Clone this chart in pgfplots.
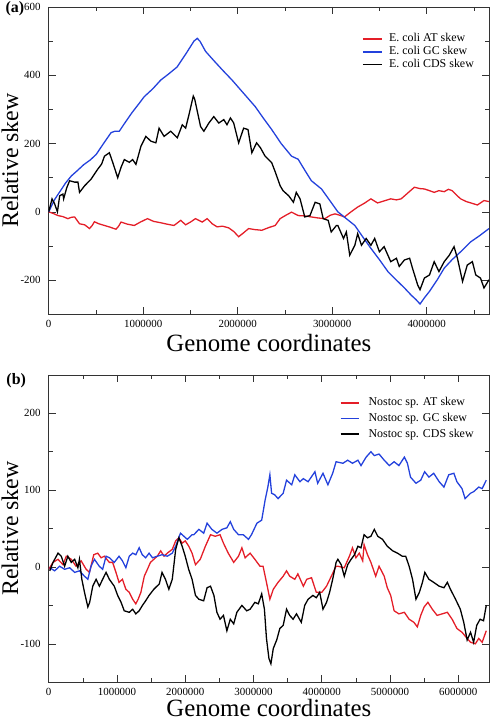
\documentclass[border=0pt]{standalone}
\usepackage{fontspec}
\setmainfont{Liberation Serif}
\usepackage{pgfplots}
\pgfplotsset{compat=1.18}
\definecolor{skewred}{RGB}{228,30,40}
\definecolor{skewblue}{RGB}{35,65,220}
\pgfplotsset{
  skewaxis/.style={
    width=442.7pt, height=309pt, scale only axis,
    axis line style={black!80, line width=0.8pt},
    tick style={black!80, line width=0.6pt},
    major tick length=7pt, minor tick length=4pt,
    scaled x ticks=false, scaled y ticks=false,
    /pgf/number format/assume math mode=true,
    xticklabel style={/pgf/number format/fixed, /pgf/number format/1000 sep={}, font=\fontsize{11}{11}\selectfont, yshift=-2.3pt},
    yticklabel style={/pgf/number format/fixed, /pgf/number format/1000 sep={}, font=\fontsize{11}{11}\selectfont, xshift=-4.6pt},
    ylabel style={font=\fontsize{24}{24}\selectfont},
    xlabel style={font=\fontsize{25}{25}\selectfont},
    xlabel={Genome coordinates},
    ylabel={Relative skew},
    ylabel style={at={(axis description cs:-0.0693,0.5)}, anchor=base},
    title style={font=\fontsize{16}{16}\selectfont\bfseries, anchor=base west},
    legend cell align=left,
    legend image code/.code={\path (0pt,-3.5pt); \draw[#1, line width=1.3pt] (0pt,0pt) -- (19pt,0pt);},
    every axis plot/.append style={line width=1.3pt, no markers},
  }
}
\begin{document}
\begin{tikzpicture}
\path[use as bounding box] (0,0) rectangle (492pt,-726pt);
% ---------------- (a) ----------------
\begin{axis}[skewaxis, at={(49pt,-7pt)}, anchor=north west,
  xmin=0, xmax=4660000, ymin=-300, ymax=600,
  xtick={0,1000000,2000000,3000000,4000000},
  minor xtick={500000,1500000,2500000,3500000,4500000},
  ytick={-200,0,200,400,600},
  minor ytick={-300,-100,100,300,500},
  xlabel style={at={(axis description cs:0.5,-0.1197)}, anchor=base},
  title={(a)}, title style={at={(axis description cs:-0.106,0.963)}},
  legend style={draw=none, fill=none, inner sep=0pt, anchor=north west,
    at={(rel axis cs:0.7115,0.916)}, font=\fontsize{12}{13}\selectfont,
    nodes={inner sep=0pt, text height=9pt, text depth=3pt}, row sep=1pt, column sep=6.7pt},
]
\addplot[color=skewred] coordinates {
(0,0) (50e3,-5) (98e3,-11) (150e3,-14) (203e3,-20) (240e3,-16) (274e3,-15) (300e3,-25) (326e3,-35) (380e3,-38) (432e3,-49) (460e3,-40) (484e3,-29) (530e3,-35) (590e3,-40) (650e3,-45) (712e3,-51) (740e3,-42) (765e3,-30) (830e3,-36) (905e3,-40) (970e3,-30) (1045e3,-20) (1110e3,-28) (1186e3,-32) (1250e3,-36) (1326e3,-40) (1397e3,-25) (1449e3,-38) (1500e3,-30) (1554e3,-20) (1624e3,-30) (1677e3,-20) (1730e3,-35) (1782e3,-44) (1840e3,-42) (1905e3,-47) (1960e3,-58) (2010e3,-73) (2060e3,-62) (2116e3,-49) (2180e3,-52) (2256e3,-54) (2330e3,-46) (2397e3,-40) (2449e3,-20) (2510e3,-10) (2570e3,-1) (2642e3,-11) (2710e3,-12) (2780e3,-15) (2850e3,-18) (2923e3,-20) (2980e3,-10) (3030e3,-6) (3080e3,-10) (3130e3,-15) (3200e3,0) (3270e3,14) (3340e3,25) (3410e3,38) (3480e3,26) (3550e3,32) (3620e3,38) (3680e3,35) (3730e3,38) (3800e3,55) (3870e3,72) (3930e3,68) (3976e3,67) (4030e3,62) (4080e3,57) (4130e3,62) (4186e3,59) (4230e3,66) (4270e3,62) (4320e3,48) (4360e3,38) (4420e3,30) (4480e3,25) (4537e3,20) (4607e3,33) (4660e3,30)
};
\addlegendentry{E. coli AT skew}
\addplot[color=skewblue] coordinates {
(0,0) (60e3,35) (120e3,60) (180e3,85) (239e3,105) (300e3,120) (370e3,138) (440e3,152) (502e3,168) (580e3,200) (660e3,232) (700e3,236) (747e3,236) (800e3,258) (880e3,290) (950e3,315) (1010e3,337) (1100e3,360) (1186e3,386) (1270e3,404) (1358e3,424) (1450e3,462) (1537e3,500) (1572e3,508) (1600e3,500) (1660e3,470) (1747e3,443) (1840e3,415) (1940e3,386) (2060e3,348) (2186e3,308) (2270e3,275) (2360e3,241) (2460e3,200) (2570e3,163) (2640e3,154) (2710e3,122) (2780e3,91) (2887e3,67) (2970e3,35) (3060e3,0) (3150e3,-20) (3240e3,-40) (3320e3,-72) (3410e3,-107) (3500e3,-140) (3590e3,-175) (3680e3,-200) (3765e3,-223) (3840e3,-245) (3887e3,-257) (3930e3,-270) (3976e3,-252) (4030e3,-233) (4110e3,-200) (4186e3,-165) (4270e3,-140) (4360e3,-117) (4466e3,-88) (4560e3,-70) (4660e3,-49)
};
\addlegendentry{E. coli GC skew}
\addplot[color=black] coordinates {
(0,0) (35e3,38) (63e3,23) (92e3,0) (116e3,47) (150e3,52) (158e3,38) (190e3,70) (221e3,91) (274e3,87) (309e3,87) (326e3,57) (379e3,76) (449e3,96) (519e3,125) (560e3,140) (590e3,163) (642e3,173) (677e3,145) (730e3,100) (765e3,130) (800e3,153) (853e3,145) (888e3,153) (923e3,139) (976e3,192) (1028e3,221) (1081e3,207) (1134e3,202) (1168e3,245) (1221e3,221) (1291e3,236) (1361e3,217) (1414e3,255) (1449e3,245) (1484e3,284) (1530e3,339) (1545e3,330) (1607e3,250) (1642e3,236) (1695e3,260) (1747e3,279) (1800e3,260) (1853e3,270) (1887e3,255) (1923e3,275) (1958e3,260) (2010e3,202) (2063e3,245) (2109e3,241) (2150e3,173) (2200e3,202) (2240e3,188) (2290e3,163) (2360e3,144) (2400e3,115) (2450e3,76) (2480e3,62) (2540e3,47) (2590e3,28) (2620e3,57) (2660e3,38) (2710e3,-15) (2765e3,-11) (2820e3,28) (2870e3,23) (2905e3,-20) (2958e3,-25) (2990e3,-59) (3045e3,-40) (3060e3,-40) (3120e3,-78) (3150e3,-59) (3186e3,-127) (3240e3,-98) (3270e3,-64) (3310e3,-98) (3360e3,-78) (3410e3,-98) (3450e3,-78) (3500e3,-117) (3550e3,-102) (3620e3,-146) (3680e3,-136) (3710e3,-160) (3765e3,-141) (3820e3,-136) (3850e3,-165) (3905e3,-214) (3930e3,-228) (3976e3,-194) (4030e3,-185) (4080e3,-146) (4130e3,-175) (4186e3,-146) (4240e3,-127) (4290e3,-102) (4326e3,-136) (4380e3,-204) (4430e3,-156) (4484e3,-146) (4520e3,-185) (4570e3,-194) (4607e3,-223) (4660e3,-199)
};
\addlegendentry{E. coli CDS skew}
\end{axis}
% ---------------- (b) ----------------
\begin{axis}[skewaxis, at={(49pt,-377pt)}, anchor=north west,
  xmin=0, xmax=6450000, ymin=-150, ymax=250,
  xtick={0,1000000,2000000,3000000,4000000,5000000,6000000},
  minor xtick={500000,1500000,2500000,3500000,4500000,5500000},
  ytick={-100,0,100,200},
  minor ytick={-150,-50,50,150,250},
  xlabel style={at={(axis description cs:0.5,-0.1100)}, anchor=base},
  title={(b)}, title style={at={(axis description cs:-0.104,0.951)}},
  legend style={draw=none, fill=none, inner sep=0pt, anchor=north west,
    at={(rel axis cs:0.661,0.929)}, font=\fontsize{12}{13}\selectfont,
    nodes={inner sep=0pt, text height=9pt, text depth=3pt}, row sep=3.7pt, column sep=8.5pt},
]
\addplot[color=skewred] coordinates {
(0,-3) (0.063e6,6) (0.136e6,10) (0.209e6,3) (0.257e6,14) (0.33e6,10) (0.40e6,1) (0.475e6,8) (0.548e6,-3) (0.597e6,-7) (0.66e6,16) (0.718e6,18) (0.767e6,12) (0.815e6,14) (0.888e6,6) (0.936e6,6) (0.985e6,-7) (1.03e6,-20) (1.08e6,-16) (1.13e6,-29) (1.18e6,-33) (1.23e6,-42) (1.276e6,-48) (1.31e6,-42) (1.35e6,-33) (1.40e6,-12) (1.446e6,-3) (1.49e6,6) (1.54e6,10) (1.59e6,14) (1.64e6,21) (1.69e6,14) (1.737e6,18) (1.81e6,23) (1.86e6,34) (1.907e6,38) (1.955e6,31) (2.0e6,34) (2.052e6,27) (2.1e6,18) (2.15e6,3) (2.22e6,10) (2.295e6,27) (2.37e6,42) (2.44e6,40) (2.51e6,42) (2.56e6,31) (2.63e6,18) (2.71e6,6) (2.78e6,14) (2.83e6,25) (2.877e6,12) (2.95e6,18) (3.02e6,10) (3.095e6,1) (3.14e6,1) (3.19e6,-20) (3.24e6,-42) (3.29e6,-29) (3.36e6,-20) (3.435e6,-12) (3.484e6,-5) (3.53e6,-12) (3.605e6,-16) (3.65e6,-9) (3.73e6,-25) (3.78e6,-16) (3.85e6,-14) (3.92e6,-33) (4.0e6,-33) (4.07e6,-25) (4.14e6,-12) (4.21e6,1) (4.236e6,1) (4.33e6,-1) (4.405e6,14) (4.45e6,25) (4.5e6,12) (4.55e6,18) (4.6e6,8) (4.62e6,29) (4.67e6,16) (4.72e6,6) (4.79e6,-12) (4.84e6,1) (4.915e6,-12) (4.96e6,-27) (5.01e6,-37) (5.06e6,-57) (5.13e6,-61) (5.21e6,-59) (5.28e6,-68) (5.35e6,-72) (5.4e6,-78) (5.45e6,-63) (5.5e6,-52) (5.555e6,-46) (5.62e6,-55) (5.69e6,-63) (5.765e6,-61) (5.84e6,-59) (5.91e6,-68) (5.98e6,-80) (6.055e6,-85) (6.13e6,-93) (6.18e6,-98) (6.25e6,-100) (6.3e6,-93) (6.35e6,-98) (6.41e6,-83)
};
\addlegendentry{Nostoc sp. AT skew}
\addplot[color=skewblue] coordinates {
(0.015e6,-1) (0.087e6,-5) (0.16e6,1) (0.233e6,-3) (0.306e6,-1) (0.38e6,-7) (0.45e6,-5) (0.524e6,-12) (0.573e6,-16) (0.62e6,1) (0.67e6,10) (0.74e6,1) (0.79e6,-3) (0.84e6,14) (0.89e6,12) (0.96e6,6) (1.03e6,14) (1.08e6,8) (1.13e6,-1) (1.18e6,14) (1.23e6,18) (1.276e6,16) (1.325e6,25) (1.37e6,16) (1.42e6,12) (1.47e6,18) (1.52e6,12) (1.59e6,14) (1.66e6,16) (1.737e6,14) (1.81e6,18) (1.86e6,27) (1.93e6,44) (1.98e6,40) (2.03e6,36) (2.1e6,42) (2.125e6,42) (2.2e6,49) (2.27e6,44) (2.32e6,57) (2.39e6,49) (2.464e6,44) (2.54e6,49) (2.61e6,51) (2.66e6,59) (2.71e6,49) (2.78e6,42) (2.85e6,42) (2.926e6,36) (2.97e6,42) (3.05e6,57) (3.12e6,61) (3.17e6,87) (3.21e6,104) (3.24e6,120) (3.265e6,96) (3.31e6,94) (3.36e6,89) (3.435e6,96) (3.484e6,113) (3.56e6,107) (3.605e6,120) (3.68e6,111) (3.73e6,115) (3.8e6,111) (3.9e6,124) (3.94e6,109) (4.018e6,122) (4.09e6,107) (4.16e6,122) (4.21e6,137) (4.31e6,135) (4.38e6,139) (4.45e6,135) (4.53e6,139) (4.575e6,132) (4.65e6,143) (4.72e6,150) (4.77e6,145) (4.84e6,147) (4.915e6,139) (4.99e6,132) (5.06e6,137) (5.13e6,132) (5.21e6,143) (5.255e6,135) (5.3e6,117) (5.38e6,109) (5.45e6,113) (5.507e6,124) (5.57e6,117) (5.64e6,122) (5.72e6,111) (5.79e6,104) (5.86e6,120) (5.935e6,122) (5.98e6,111) (6.055e6,102) (6.1e6,89) (6.18e6,96) (6.225e6,98) (6.3e6,104) (6.35e6,102) (6.41e6,113)
};
\addlegendentry{Nostoc sp. GC skew}
\addplot[color=black] coordinates {
(0.015e6,-5) (0.063e6,6) (0.136e6,18) (0.184e6,14) (0.233e6,1) (0.28e6,14) (0.33e6,6) (0.38e6,10) (0.427e6,-1) (0.45e6,10) (0.485e6,-16) (0.524e6,-33) (0.573e6,-52) (0.6e6,-46) (0.645e6,-25) (0.694e6,-16) (0.742e6,-25) (0.79e6,-16) (0.84e6,-7) (0.888e6,-16) (0.96e6,-25) (1.01e6,-37) (1.06e6,-46) (1.106e6,-57) (1.18e6,-59) (1.23e6,-55) (1.276e6,-61) (1.325e6,-57) (1.373e6,-50) (1.42e6,-44) (1.47e6,-37) (1.54e6,-29) (1.62e6,-22) (1.66e6,-7) (1.71e6,-16) (1.76e6,-29) (1.81e6,-16) (1.86e6,23) (1.907e6,38) (1.955e6,27) (2.0e6,14) (2.05e6,-3) (2.1e6,-16) (2.15e6,-37) (2.2e6,-42) (2.27e6,-44) (2.32e6,-27) (2.37e6,-25) (2.42e6,-37) (2.464e6,-59) (2.51e6,-68) (2.56e6,-63) (2.61e6,-83) (2.66e6,-68) (2.71e6,-74) (2.756e6,-59) (2.83e6,-50) (2.9e6,-57) (2.95e6,-55) (3.02e6,-46) (3.07e6,-48) (3.12e6,-35) (3.16e6,-55) (3.19e6,-93) (3.226e6,-119) (3.255e6,-126) (3.29e6,-106) (3.34e6,-95) (3.386e6,-80) (3.435e6,-76) (3.484e6,-55) (3.53e6,-63) (3.58e6,-68) (3.63e6,-61) (3.7e6,-72) (3.75e6,-50) (3.8e6,-42) (3.87e6,-37) (3.92e6,-40) (3.97e6,-33) (4.018e6,-55) (4.07e6,-46) (4.115e6,-33) (4.16e6,-16) (4.21e6,6) (4.236e6,10) (4.285e6,3) (4.33e6,-12) (4.38e6,3) (4.43e6,10) (4.48e6,16) (4.53e6,27) (4.575e6,25) (4.62e6,42) (4.67e6,38) (4.72e6,40) (4.77e6,49) (4.82e6,40) (4.89e6,36) (4.96e6,27) (5.04e6,21) (5.11e6,18) (5.18e6,14) (5.23e6,14) (5.28e6,1) (5.33e6,-16) (5.38e6,-42) (5.43e6,-33) (5.475e6,-20) (5.51e6,-7) (5.57e6,-16) (5.64e6,-20) (5.72e6,-25) (5.79e6,-27) (5.84e6,-20) (5.885e6,-29) (5.96e6,-42) (6.03e6,-55) (6.08e6,-72) (6.13e6,-95) (6.18e6,-85) (6.225e6,-98) (6.27e6,-76) (6.32e6,-68) (6.37e6,-70) (6.41e6,-50)
};
\addlegendentry{Nostoc sp. CDS skew}
\end{axis}
\end{tikzpicture}
\end{document}
